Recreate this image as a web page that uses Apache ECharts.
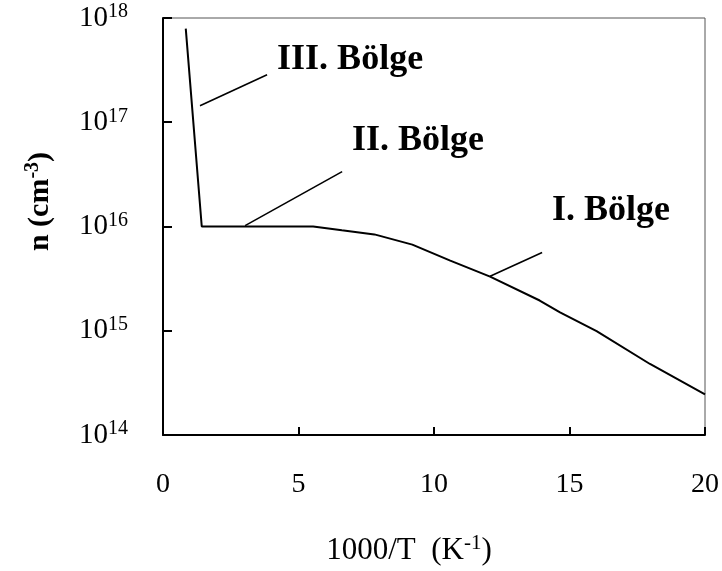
<!DOCTYPE html>
<html lang="en">
<head>
    <meta charset="UTF-8">
    <title>n - 1000/T</title>
    <style>
        html, body { margin: 0; padding: 0; background: #fff; }
    </style>
</head>
<body>
<div id="echart" style="width: 722px; height: 571px;"></div>

<script src="https://cdn.jsdelivr.net/npm/echarts@6/dist/echarts.min.js"></script>
<script>
    // egri: 1000/T (K^-1) ve n (cm^-3)
    var invT = [0.84, 1.43, 5.54, 6.6, 7.8, 9.2, 10.6, 12.07, 13.9, 14.65, 16.0, 17.97, 20];
    var nVals = [7.9e17, 1e16, 1e16, 9.2e15, 8.4e15, 6.7e15, 4.7e15, 3.3e15, 1.95e15, 1.5e15, 9.9e14, 4.8e14, 2.45e14];

    // bolge etiketleri ve isaret cizgileri
    var regionNames = ['III. Bölge', 'II. Bölge', 'I. Bölge'];
    var labelX = [4.21, 6.97, 14.35];
    var labelN = [3.96e17, 6.65e16, 1.42e16];
    var pointerX = [[1.365, 3.84], [3.03, 6.61], [12.07, 13.99]];
    var pointerN = [[1.44e17, 2.85e17], [1.02e16, 3.36e16], [3.33e15, 5.64e15]];

    var xTicks = [0, 5, 10, 15, 20];
    var yExp = [14, 15, 16, 17, 18];

    var font = 'Liberation Serif';
    var dom = document.getElementById("echart");
    var myChart = echarts.init(dom);

    var zip = function (xs, ys) {
        var res = [];
        for (var i = 0; i < xs.length; i++) {
            res.push([xs[i], ys[i]]);
        }
        return res;
    };

    var series = [
        {
            type: 'line',
            data: zip(invT, nVals),
            symbol: 'none',
            lineStyle: { color: '#000', width: 2 },
            z: 3
        }
    ];
    for (var i = 0; i < regionNames.length; i++) {
        series.push({
            type: 'line',
            data: zip(pointerX[i], pointerN[i]),
            symbol: 'none',
            lineStyle: { color: '#000', width: 1.6 },
            z: 2
        });
    }
    series.push({
        type: 'scatter',
        symbolSize: 0,
        itemStyle: { opacity: 1, color: '#000' },
        data: regionNames.map(function (name, k) {
            return { name: name, value: [labelX[k], labelN[k]] };
        }),
        label: {
            show: true,
            position: 'right',
            distance: 0,
            formatter: '{b}',
            color: '#000',
            opacity: 1,
            textBorderWidth: 0,
            fontFamily: font,
            fontWeight: 'bold',
            fontSize: 36
        }
    });

    var option = {
        animation: false,
        grid: {
            left: 163,
            right: 17,
            top: 18,
            bottom: 135,
            show: true,
            borderColor: '#555',
            borderWidth: 1
        },
        xAxis: {
            type: 'value',
            min: xTicks[0],
            max: xTicks[xTicks.length - 1],
            interval: 5,
            splitLine: { show: false },
            axisLine: { lineStyle: { color: '#000', width: 2 } },
            axisTick: { inside: true, length: 8, lineStyle: { color: '#000', width: 2 } },
            axisLabel: {
                margin: 36,
                color: '#000',
                fontFamily: font,
                fontSize: 28
            },
            name: '1000/T  (K{s|-1})',
            nameLocation: 'middle',
            nameGap: 98,
            nameTextStyle: {
                color: '#000',
                fontFamily: font,
                fontSize: 31,
                padding: [0, 50, 0, 0],
                rich: {
                    s: { fontFamily: font, fontSize: 21, color: '#000', padding: [0, 0, 14, 0] }
                }
            }
        },
        yAxis: {
            type: 'log',
            logBase: 10,
            min: Math.pow(10, yExp[0]),
            max: Math.pow(10, yExp[yExp.length - 1]),
            splitLine: { show: false },
            minorTick: { show: false },
            axisLine: { lineStyle: { color: '#000', width: 2 } },
            axisTick: { inside: true, length: 9, lineStyle: { color: '#000', width: 2 } },
            axisLabel: {
                margin: 35,
                color: '#000',
                fontFamily: font,
                formatter: function (v) {
                    var e = Math.round(Math.log10(v));
                    return '{b|10}{s|' + e + '}';
                },
                rich: {
                    b: { fontFamily: font, fontSize: 29, color: '#000' },
                    s: { fontFamily: font, fontSize: 20, color: '#000', padding: [0, 0, 12, 0] }
                }
            },
            name: 'n (cm{s|-3})',
            nameLocation: 'middle',
            nameGap: 106,
            nameTextStyle: {
                color: '#000',
                fontFamily: font,
                fontWeight: 'bold',
                fontSize: 30,
                padding: [0, 0, 0, 50],
                rich: {
                    s: { fontFamily: font, fontWeight: 'bold', fontSize: 20, color: '#000', padding: [0, 0, 14, 0] }
                }
            }
        },
        series: series
    };
    myChart.setOption(option);
</script>
</body>
</html>
